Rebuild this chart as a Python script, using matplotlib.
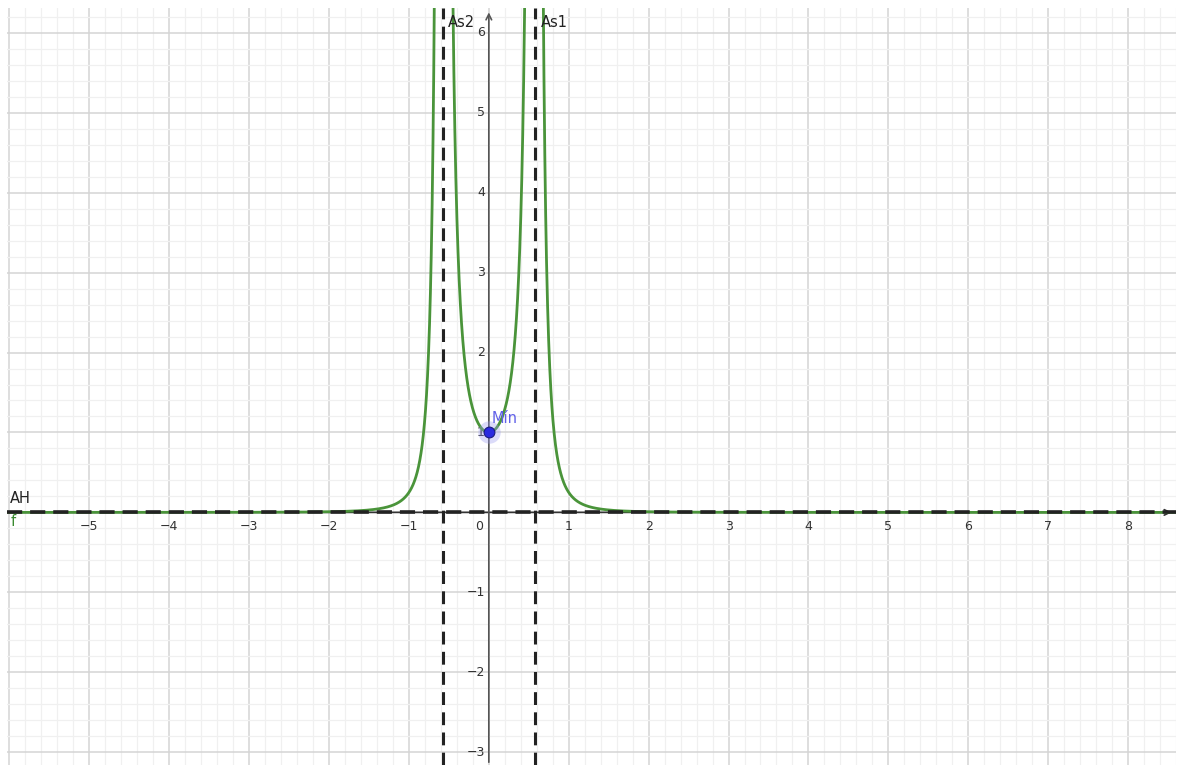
import numpy as np
import matplotlib.pyplot as plt
from matplotlib.ticker import MultipleLocator

# window of the graphics view
x_min, x_max = -6.03, 8.6
y_min, y_max = -3.16, 6.31

# f(x) = 1 / (1 - 3x^2)^2
coef = 3.0
asym_x = [-1 / np.sqrt(3), 1 / np.sqrt(3)]
asym_names = ["As2", "As1"]
asym_h = 0.0
min_pt = (0.0, 1.0)

x_ticks = [-5, -4, -3, -2, -1, 0, 1, 2, 3, 4, 5, 6, 7, 8]
y_ticks = [-3, -2, -1, 1, 2, 3, 4, 5, 6]

def f(x):
    return 1.0 / (1.0 - coef * x**2) ** 2

fig = plt.figure(figsize=(11.84, 7.65), dpi=100)
ax = fig.add_axes([7 / 1184, 0, 1169 / 1184, 757 / 765])
ax.set_xlim(x_min, x_max)
ax.set_ylim(y_min, y_max)

ax.xaxis.set_major_locator(MultipleLocator(1))
ax.yaxis.set_major_locator(MultipleLocator(1))
ax.xaxis.set_minor_locator(MultipleLocator(0.2))
ax.yaxis.set_minor_locator(MultipleLocator(0.2))
ax.grid(which="major", color="#d4d4d4", lw=1.1, zorder=0)
ax.grid(which="minor", color="#f0f0f0", lw=0.9, zorder=0)
ax.tick_params(which="both", length=0, labelbottom=False, labelleft=False)
for s in ax.spines.values():
    s.set_visible(False)

# axes with arrows
ax.annotate("", xy=(x_max - 0.02, 0), xytext=(x_min, 0),
            arrowprops=dict(arrowstyle="->", color="#333333", lw=1.2), zorder=2)
ax.annotate("", xy=(0, y_max - 0.02), xytext=(0, y_min),
            arrowprops=dict(arrowstyle="->", color="#555555", lw=1.2), zorder=2)

for t in x_ticks:
    lab = "0" if t == 0 else str(t).replace("-", "\u2212")
    dx = -0.12 if t == 0 else 0
    ax.text(t + dx, -0.1, lab, ha="center", va="top", fontsize=9, color="#333333")
for t in y_ticks:
    ax.text(-0.05, t, str(t).replace("-", "\u2212"), ha="right", va="center",
            fontsize=9, color="#333333")

# curve, split at the asymptotes
gap = 0.003
pieces = [np.linspace(x_min, asym_x[0] - gap, 3000),
          np.linspace(asym_x[0] + gap, asym_x[1] - gap, 3000),
          np.linspace(asym_x[1] + gap, x_max, 3000)]
for xs in pieces:
    ax.plot(xs, f(xs), color="#4a943a", lw=2.0, zorder=3)

# asymptotes
for xa, name in zip(asym_x, asym_names):
    ax.axvline(xa, color="#222222", lw=2.2, ls=(0, (4.2, 2.4)), zorder=4)
    ax.text(xa + 0.07, 6.13, name, ha="left", va="center", fontsize=10.5, color="#222222")
ax.axhline(asym_h, color="#222222", lw=2.6, ls=(0, (4.2, 2.2)), zorder=4)
ax.text(x_min + 0.04, 0.17, "AH", ha="left", va="center", fontsize=10.5, color="#222222")
ax.text(x_min + 0.05, -0.12, "f", ha="left", va="center", fontsize=10.5, color="#3a8a30")

# minimum point
ax.scatter([min_pt[0]], [min_pt[1]], s=260, color="#9999ee", alpha=0.35, lw=0, zorder=5)
ax.scatter([min_pt[0]], [min_pt[1]], s=60, color="#2a2ae0", edgecolor="#1a1a80",
           lw=0.8, zorder=6)
ax.text(min_pt[0] + 0.04, min_pt[1] + 0.18, "Mín", ha="left", va="center",
        fontsize=10.5, color="#6060e8", zorder=6)

fig.savefig("out.png", dpi=100, facecolor="white")
